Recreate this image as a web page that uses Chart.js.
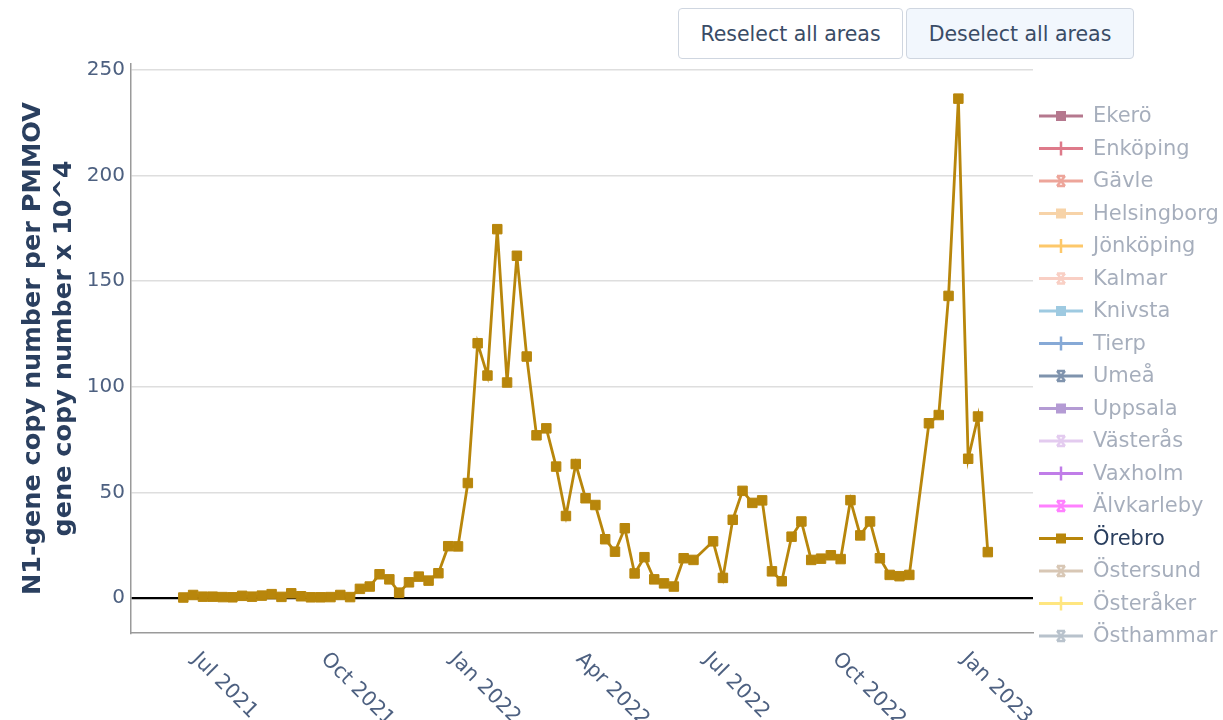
<!DOCTYPE html>
<html>
<head>
<meta charset="utf-8">
<script src="https://cdn.jsdelivr.net/npm/chart.js@4.4.1/dist/chart.umd.min.js"></script>
<style>
    body { margin: 0; background: #fff; font-family: "DejaVu Sans", sans-serif; }
    #wrap { position: relative; width: 1223px; height: 720px; }
    #chart { position: absolute; left: 0; top: 0; }
    .btn {
        position: absolute; top: 8px; height: 51px; box-sizing: border-box;
        border: 1px solid #cfd6e0; border-radius: 4px; background: #fff;
        font-family: "DejaVu Sans", sans-serif; font-size: 20.5px; color: #3a4c66;
        display: flex; align-items: center; justify-content: center;
    }
    #reselect { left: 678px; width: 225px; }
    #deselect { left: 906px; width: 228px; background: #f2f7fd; }
</style>
</head>
<body>
<div id="wrap">
    <canvas id="chart" width="1223" height="720"></canvas>
    <div class="btn" id="reselect">Reselect all areas</div>
    <div class="btn" id="deselect">Deselect all areas</div>
</div>
<script>
// Areas shown in the legend (only Örebro is selected)
const areas = ["Ekerö", "Enköping", "Gävle", "Helsingborg", "Jönköping", "Kalmar", "Knivsta", "Tierp",
    "Umeå", "Uppsala", "Västerås", "Vaxholm", "Älvkarleby", "Örebro", "Östersund", "Österåker", "Östhammar"];
const selectedArea = "Örebro";

// Örebro sample dates (weekly) and values
const orebroDates = [
    "2021-06-21", "2021-06-28", "2021-07-05", "2021-07-12", "2021-07-19", "2021-07-26",
    "2021-08-02", "2021-08-09", "2021-08-16", "2021-08-23", "2021-08-30", "2021-09-06",
    "2021-09-13", "2021-09-20", "2021-09-27", "2021-10-04", "2021-10-11", "2021-10-18",
    "2021-10-25", "2021-11-01", "2021-11-08", "2021-11-15", "2021-11-22", "2021-11-29",
    "2021-12-06", "2021-12-13", "2021-12-20", "2021-12-27", "2022-01-03", "2022-01-10",
    "2022-01-17", "2022-01-24", "2022-01-31", "2022-02-07", "2022-02-14", "2022-02-21",
    "2022-02-28", "2022-03-07", "2022-03-14", "2022-03-21", "2022-03-28", "2022-04-04",
    "2022-04-11", "2022-04-18", "2022-04-25", "2022-05-02", "2022-05-09", "2022-05-16",
    "2022-05-23", "2022-05-30", "2022-06-06", "2022-06-13", "2022-06-20",
    "2022-07-04", "2022-07-11", "2022-07-18", "2022-07-25", "2022-08-01", "2022-08-08",
    "2022-08-15", "2022-08-22", "2022-08-29", "2022-09-05", "2022-09-12", "2022-09-19",
    "2022-09-26", "2022-10-03", "2022-10-10", "2022-10-17", "2022-10-24", "2022-10-31",
    "2022-11-07", "2022-11-14", "2022-11-21",
    "2022-12-05", "2022-12-12", "2022-12-19", "2022-12-26", "2023-01-02", "2023-01-09", "2023-01-16"
];
const orebroValues = [
    0.2, 1.4, 0.6, 0.6, 0.4, 0.3,
    1.0, 0.6, 1.1, 1.8, 0.5, 2.2,
    0.8, 0.3, 0.3, 0.4, 1.4, 0.4,
    4.3, 5.4, 11.2, 8.8, 2.5, 7.4,
    10.1, 8.2, 11.7, 24.5, 24.4, 54.4,
    120.6, 105.3, 174.6, 102.0, 162.0, 114.3,
    77.0, 80.3, 62.2, 38.8, 63.4, 47.2,
    44.0, 27.8, 21.9, 33.0, 11.6, 19.3,
    8.8, 6.9, 5.4, 18.8, 18.0,
    26.8, 9.5, 37.0, 50.7, 45.0, 46.2,
    12.6, 7.9, 29.0, 36.2, 18.0, 18.6,
    20.2, 18.4, 46.3, 29.6, 36.2, 18.8,
    10.9, 10.3, 10.9,
    82.7, 86.6, 143.0, 236.4, 65.9, 85.9, 21.7
];

// Axis ticks
const xTickDates = ["2021-07-01", "2021-10-01", "2022-01-01", "2022-04-01", "2022-07-01", "2022-10-01", "2023-01-01"];
const xTickLabels = ["Jul 2021", "Oct 2021", "Jan 2022", "Apr 2022", "Jul 2022", "Oct 2022", "Jan 2023"];
const yTicks = [0, 50, 100, 150, 200, 250];

// Styling per area
const areaColors = ["#b5788e", "#de7a8a", "#eda59a", "#f7d3a8", "#fdc86a", "#f9cfc4", "#9ecae1", "#86a9d6",
    "#7f93ad", "#b49bd4", "#e3cbef", "#c07de8", "#ff80ff", "#b8860b", "#d8c7b5", "#ffe680", "#b8c2cc"];
const areaSymbols = ["square", "cross", "x", "square", "cross", "x", "square", "cross",
    "x", "square", "x", "cross", "x", "square", "x", "cross", "x"];

const tickColor = '#4d6080';
const titleColor = '#2a3f5f';

const orebroPoints = orebroDates.map((d, i) => ({ x: Date.parse(d), y: orebroValues[i] }));

const datasets = areas.map((name, i) => ({
    label: name,
    data: name === selectedArea ? orebroPoints : [],
    hidden: name !== selectedArea,
    borderColor: areaColors[i],
    backgroundColor: areaColors[i],
    pointBorderColor: areaColors[i],
    pointBackgroundColor: areaColors[i],
    borderWidth: 2.8,
    pointStyle: 'rect',
    pointRadius: 6.7,
    pointBorderWidth: 1,
    tension: 0
}));

// Draw a legend symbol (line with marker)
function drawSymbol(ctx, kind, color, cx, cy) {
    ctx.save();
    ctx.strokeStyle = color;
    ctx.fillStyle = color;
    ctx.lineWidth = 3;
    ctx.beginPath();
    ctx.moveTo(cx - 22, cy);
    ctx.lineTo(cx + 22, cy);
    ctx.stroke();
    if (kind === 'square') {
        ctx.fillRect(cx - 5, cy - 5, 10, 10);
    } else if (kind === 'cross') {
        ctx.lineWidth = 2.5;
        ctx.beginPath();
        ctx.moveTo(cx, cy - 7);
        ctx.lineTo(cx, cy + 7);
        ctx.stroke();
    } else {
        ctx.lineWidth = 2.5;
        ctx.beginPath();
        ctx.moveTo(cx - 4, cy - 5);
        ctx.lineTo(cx + 4, cy + 5);
        ctx.moveTo(cx + 4, cy - 5);
        ctx.lineTo(cx - 4, cy + 5);
        ctx.moveTo(cx - 4, cy - 5);
        ctx.lineTo(cx + 4, cy - 5);
        ctx.moveTo(cx - 4, cy + 5);
        ctx.lineTo(cx + 4, cy + 5);
        ctx.stroke();
    }
    ctx.restore();
}

// Plotly-style legend and angled x labels
const extrasPlugin = {
    id: 'extras',
    afterDraw(chart) {
        const ctx = chart.ctx;
        const xScale = chart.scales.x;

        ctx.save();
        ctx.font = '20.5px "DejaVu Sans"';
        ctx.fillStyle = tickColor;
        ctx.textAlign = 'left';
        ctx.textBaseline = 'top';
        xScale.ticks.forEach((t, i) => {
            const px = xScale.getPixelForValue(t.value);
            ctx.save();
            ctx.translate(px + 5, chart.chartArea.bottom + 16);
            ctx.rotate(Math.PI / 4);
            ctx.fillText(xTickLabels[i], 0, 0);
            ctx.restore();
        });
        ctx.restore();

        ctx.save();
        ctx.font = '21px "DejaVu Sans"';
        ctx.textBaseline = 'middle';
        ctx.textAlign = 'left';
        chart.data.datasets.forEach((ds, i) => {
            const y = 116 + i * 32.5;
            const active = !ds.hidden;
            drawSymbol(ctx, areaSymbols[i], areaColors[i], 1061, y);
            ctx.fillStyle = active ? titleColor : 'rgba(42,63,95,0.42)';
            ctx.fillText(ds.label, 1093, y + 1);
        });
        ctx.restore();
    }
};

new Chart(document.getElementById('chart').getContext('2d'), {
    type: 'line',
    data: { datasets: datasets },
    options: {
        responsive: false,
        animation: false,
        layout: { padding: { top: 64, right: 190, left: 0, bottom: 0 } },
        plugins: {
            legend: { display: false },
            tooltip: { enabled: false }
        },
        scales: {
            x: {
                type: 'linear',
                min: Date.parse('2021-05-14T16:00:00Z'),
                max: Date.parse('2023-02-17T06:00:00Z'),
                afterBuildTicks: scale => { scale.ticks = xTickDates.map(d => ({ value: Date.parse(d) })); },
                afterFit: scale => { scale.height = 87; },
                ticks: { display: false },
                grid: { display: false, drawTicks: false },
                border: { display: true, color: '#9a9a9a', width: 1.5 }
            },
            y: {
                min: -16.6,
                max: 252.8,
                afterBuildTicks: scale => { scale.ticks = yTicks.map(v => ({ value: v })); },
                afterFit: scale => { scale.width = 131; },
                ticks: {
                    color: tickColor,
                    padding: 6,
                    font: { family: 'DejaVu Sans', size: 20 }
                },
                grid: {
                    drawTicks: false,
                    color: c => (c.tick && c.tick.value === 0) ? '#000000' : '#dedede',
                    lineWidth: c => (c.tick && c.tick.value === 0) ? 2.2 : 1.5
                },
                border: { display: true, color: '#9a9a9a', width: 1.5 },
                title: {
                    display: true,
                    text: ['N1-gene copy number per PMMOV', 'gene copy number x 10^4'],
                    color: titleColor,
                    font: { family: 'DejaVu Sans', size: 25.5, weight: 'bold', lineHeight: 1.2 },
                    padding: { top: 18, bottom: 0 }
                }
            }
        }
    },
    plugins: [extrasPlugin]
});
</script>
</body>
</html>
